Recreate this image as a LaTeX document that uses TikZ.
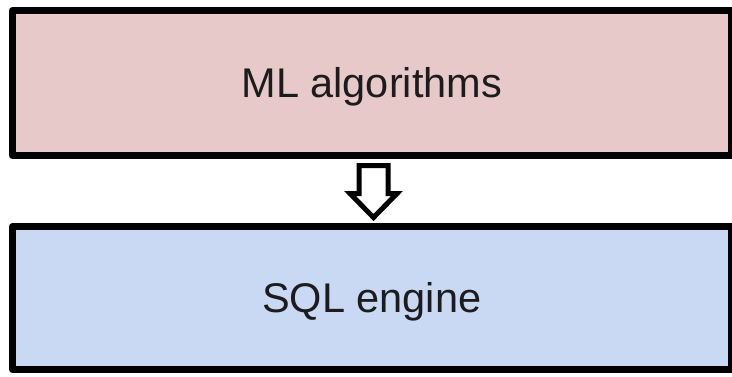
\documentclass[tikz,border=0pt]{standalone}
\usepackage{fontspec}
\setmainfont{Liberation Sans}
\usepackage{xcolor}
\usetikzlibrary{calc}
\definecolor{mlpink}{HTML}{E8C9C9}
\definecolor{sqlblue}{HTML}{C9D8F3}
\definecolor{inkgray}{HTML}{1C1C1C}
\tikzset{layerbox/.style={draw=black,line width=7pt,line join=round,outer sep=0pt,minimum width=718.5pt,
    text=inkgray,text height=29pt,text depth=0pt,font=\fontsize{41.5}{48}\selectfont}}
\tikzset{blockarrow/.style={draw=black,fill=white,line width=5pt,line join=miter}}

\begin{document}
\begin{tikzpicture}[x=1pt,y=1pt]
            \useasboundingbox (0,0) rectangle (732,376);
            % draw the two layers
            \node[layerbox,fill=mlpink,minimum height=145pt] (ml) at (371.75,293) {ML algorithms};
            \node[layerbox,fill=sqlblue,minimum height=142.8pt] (sql) at (371.75,77.9) {SQL engine};
            % draw the hollow arrow between them
            \coordinate (arrtop) at ($(ml.south)+(1.75,-10)$);
            \coordinate (arrtip) at ($(arrtop)+(0,-52)$);
            \draw[blockarrow] ($(arrtop)+(-14.5,0)$) -- ++(0,-28) -- ++(-9,0) -- (arrtip)
                -- ($(arrtop)+(23.5,-28)$) -- ++(-9,0) -- ++(0,28) -- cycle;
        \end{tikzpicture}
\end{document}
